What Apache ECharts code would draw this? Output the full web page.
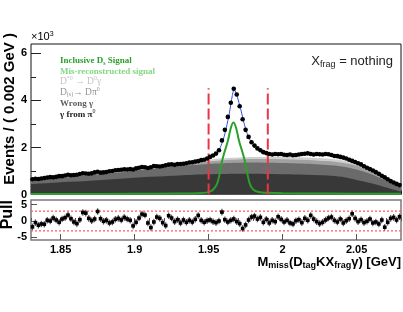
<!DOCTYPE html>
<html><head><meta charset="utf-8">
<script src="https://cdn.jsdelivr.net/npm/echarts@6/dist/echarts.min.js"></script>
<style>html,body{margin:0;padding:0;background:#fff}#c{width:403px;height:312px}</style>
</head><body><div id="c"></div>
<script>
// ---- data (events in units of 10^3) ----
const binCenters = [
1.831,1.833,1.835,1.837,1.839,1.841,1.843,1.845,1.847,1.849,
1.851,1.853,1.855,1.857,1.859,1.861,1.863,1.865,1.867,1.869,
1.871,1.873,1.875,1.877,1.879,1.881,1.883,1.885,1.887,1.889,
1.891,1.893,1.895,1.897,1.899,1.901,1.903,1.905,1.907,1.909,
1.911,1.913,1.915,1.917,1.919,1.921,1.923,1.925,1.927,1.929,
1.931,1.933,1.935,1.937,1.939,1.941,1.943,1.945,1.947,1.949,
1.951,1.953,1.955,1.957,1.959,1.961,1.963,1.965,1.967,1.969,
1.971,1.973,1.975,1.977,1.979,1.981,1.983,1.985,1.987,1.989,
1.991,1.993,1.995,1.997,1.999,2.001,2.003,2.005,2.007,2.009,
2.011,2.013,2.015,2.017,2.019,2.021,2.023,2.025,2.027,2.029,
2.031,2.033,2.035,2.037,2.039,2.041,2.043,2.045,2.047,2.049,
2.051,2.053,2.055,2.057,2.059,2.061,2.063,2.065,2.067,2.069,
2.071,2.073,2.075,2.077,2.079];
const binHalfWidth = 0.001;

const events = [
0.65,0.67,0.66,0.68,0.70,0.72,0.74,0.73,0.75,0.78,
0.78,0.81,0.84,0.82,0.83,0.84,0.87,0.90,0.89,0.88,
0.90,0.94,0.97,0.93,0.94,0.96,0.99,1.00,1.03,1.04,
1.05,1.07,1.06,1.08,1.06,1.11,1.14,1.17,1.16,1.13,
1.16,1.21,1.20,1.19,1.21,1.24,1.27,1.28,1.26,1.29,
1.30,1.31,1.33,1.36,1.37,1.40,1.42,1.46,1.48,1.53,
1.60,1.66,1.74,1.88,2.30,2.75,3.30,3.90,4.50,4.25,
3.75,3.20,2.75,2.45,2.22,2.08,1.96,1.88,1.80,1.76,
1.72,1.70,1.72,1.71,1.72,1.69,1.68,1.70,1.67,1.68,
1.70,1.72,1.73,1.75,1.72,1.70,1.72,1.71,1.70,1.72,
1.71,1.68,1.64,1.63,1.60,1.57,1.53,1.48,1.43,1.38,
1.33,1.28,1.20,1.14,1.08,1.02,0.95,0.88,0.80,0.73,
0.65,0.57,0.51,0.45,0.40];

const pulls = [
-1.8,-0.5,-1.3,-0.9,-1.0,0.2,0.0,0.9,0.3,-0.4,
0.6,1.0,1.8,0.7,-0.3,-0.8,0.4,2.6,2.4,0.8,
0.1,0.6,2.9,0.7,-0.1,0.2,-0.6,-0.3,0.5,0.8,
0.3,1.1,0.6,0.2,-1.5,-0.4,0.9,2.1,1.8,-0.6,
-2.0,-0.3,1.2,0.8,-0.5,-1.4,1.6,0.9,-0.2,0.4,
-0.6,0.3,-0.4,0.2,-0.3,0.5,1.7,0.2,-0.4,0.1,
0.3,-0.2,-0.5,0.0,2.7,0.4,-0.3,0.2,0.6,-0.2,
-0.8,-2.3,-1.2,0.3,1.2,1.5,0.6,1.1,-0.4,0.5,
-0.6,0.2,-0.2,1.3,0.5,-0.3,0.2,-0.6,-0.9,0.1,
0.4,-0.5,0.8,0.2,1.7,0.6,-0.2,-0.8,-0.4,0.3,
0.9,1.2,0.2,-0.3,0.6,-0.6,0.1,0.7,2.2,0.8,
-0.2,0.4,-0.5,-0.1,0.6,-0.6,-0.3,-0.9,0.3,-1.9,
-0.4,0.8,1.1,0.3,1.3];
const pullError = 1;

// background components (stacked, bottom to top), sampled every 0.01 GeV
const compX = [1.83,1.84,1.85,1.86,1.87,1.88,1.89,1.90,1.91,1.92,1.93,1.94,1.95,1.96,1.97,1.98,1.99,2.00,2.01,2.02,2.03,2.04,2.05,2.06,2.07,2.08];
const gammaFromPi0 = [.45,.48,.52,.55,.59,.63,.67,.71,.75,.78,.81,.84,.86,.87,.88,.88,.87,.86,.85,.83,.81,.75,.62,.48,.30,.12];
const wrongGamma   = [.15,.17,.19,.21,.23,.25,.27,.30,.33,.36,.39,.41,.44,.46,.47,.48,.48,.48,.47,.47,.44,.44,.44,.38,.28,.18];
const dsToDpi0     = [.01,.01,.01,.01,.01,.01,.01,.01,.01,.02,.03,.06,.10,.13,.14,.15,.16,.16,.16,.16,.17,.16,.16,.10,.08,.05];
const dstarToD0g   = [.02,.02,.02,.02,.02,.02,.02,.02,.03,.03,.04,.06,.08,.08,.08,.08,.08,.09,.10,.10,.11,.11,.08,.05,.04,.03];

// inclusive Ds signal curve
const sigX = [1.83,1.90,1.93,1.943,1.950,1.953,1.956,1.9594,1.9631,1.9651,1.9668,1.9685,1.9705,1.9742,1.9776,1.980,1.9837,1.990,2.00,2.03,2.08];
const sigY = [0.02,0.03,0.04,0.05,0.10,0.20,0.50,1.50,2.30,2.85,3.06,2.85,2.30,1.50,0.50,0.22,0.11,0.07,0.05,0.04,0.03];

// total fit curve
const fitX = [1.83,1.84,1.85,1.86,1.87,1.88,1.89,1.90,1.91,1.92,1.93,1.94,1.945,1.950,1.953,1.956,1.958,1.960,1.962,1.964,1.966,1.967,1.968,1.969,1.970,1.972,1.974,1.976,1.978,1.980,1.983,1.986,1.990,1.995,2.00,2.01,2.02,2.03,2.04,2.05,2.06,2.07,2.08];
const fitY = [0.65,0.71,0.78,0.84,0.90,0.96,1.03,1.10,1.17,1.24,1.31,1.39,1.45,1.55,1.64,1.80,2.02,2.35,2.85,3.45,4.20,4.42,4.40,4.25,4.02,3.55,3.02,2.60,2.32,2.14,1.97,1.85,1.76,1.72,1.70,1.70,1.71,1.70,1.60,1.33,1.03,0.66,0.38];

const cutWindow = [1.95, 1.99];
const cutLineTop = 4.52;
const pullBand = [-3, 3];

const xTicksMajor = [1.85, 1.9, 1.95, 2, 2.05];
const yTicksMajor = [0, 2, 4, 6];
const yTicksMinor = [1, 3, 5];
const pullTicks = [-5, 0, 5];

// ---- chart ----
const chart = echarts.init(document.getElementById('c'), null, {renderer: 'canvas'});
const F = '"Liberation Sans", Arial, sans-serif';
const SERIF = '"Liberation Serif", "Times New Roman", serif';
const zip = (a, b) => a.map((v, i) => [v, b[i]]);
const labelFont = {fontFamily: F, fontWeight: 'bold', fontSize: 11, color: '#000'};

// cumulative tops of the stacked background components
const layers = [
  {name: 'γ from π0', vals: gammaFromPi0, color: '#383838'},
  {name: 'Wrong γ', vals: wrongGamma, color: '#6b6b6b'},
  {name: 'D(s)→Dπ0', vals: dsToDpi0, color: '#a0a0a0'},
  {name: 'D*0→D0γ', vals: dstarToD0g, color: '#cfcfcf'}
];
let running = compX.map(() => 0);
layers.forEach(L => { running = running.map((s, i) => s + L.vals[i]); L.top = running.slice(); });

const areaSeries = layers.slice().reverse().map((L, k) => ({
  name: L.name, type: 'line', xAxisIndex: 0, yAxisIndex: 0, data: zip(compX, L.top),
  smooth: 0.3, showSymbol: false, symbol: 'none', lineStyle: {width: 0},
  areaStyle: {color: L.color, opacity: 1, origin: 'start'}, z: 2 + k * 0.01, silent: true
}));

const option = {
  animation: false,
  grid: [
    {left: 31, top: 44, width: 370, height: 150.5, show: true, borderColor: '#111', borderWidth: 1},
    {left: 31, top: 200, width: 370, height: 40, show: true, borderColor: '#7a7a7a', borderWidth: 1.5}
  ],
  xAxis: [
    {gridIndex: 0, type: 'value', min: 1.83, max: 2.08, interval: 0.01, position: 'bottom',
     axisLine: {show: false}, axisTick: {inside: true, length: 4, lineStyle: {color: '#222'}},
     axisLabel: {show: false}, splitLine: {show: false}},
    {gridIndex: 0, type: 'value', min: 1.83, max: 2.08, position: 'bottom',
     axisLine: {show: false}, axisTick: {inside: true, length: 9, customValues: xTicksMajor, lineStyle: {color: '#222'}},
     axisLabel: {show: false}, splitLine: {show: false}},
    {gridIndex: 1, type: 'value', min: 1.83, max: 2.08, interval: 0.01, position: 'bottom',
     axisLine: {show: false}, axisTick: {inside: true, length: 3, lineStyle: {color: '#555'}},
     axisLabel: Object.assign({customValues: xTicksMajor, margin: 4,
       formatter: v => String(+(+v).toFixed(2))}, labelFont),
     splitLine: {show: false}},
    {gridIndex: 1, type: 'value', min: 1.83, max: 2.08, position: 'bottom',
     axisLine: {show: false}, axisTick: {inside: true, length: 6, customValues: xTicksMajor, lineStyle: {color: '#555'}},
     axisLabel: {show: false}, splitLine: {show: false}}
  ],
  yAxis: [
    {gridIndex: 0, type: 'value', min: 0, max: 6.4, position: 'left',
     axisLine: {show: false}, axisTick: {inside: true, length: 5, customValues: yTicksMinor, lineStyle: {color: '#222'}},
     axisLabel: {show: false}, splitLine: {show: false}},
    {gridIndex: 0, type: 'value', min: 0, max: 6.4, position: 'left',
     axisLine: {show: false}, axisTick: {inside: true, length: 10, customValues: yTicksMajor, lineStyle: {color: '#222'}},
     axisLabel: Object.assign({customValues: yTicksMajor, margin: 4}, labelFont), splitLine: {show: false}},
    {gridIndex: 1, type: 'value', min: -5.8, max: 6.4, position: 'left',
     axisLine: {show: false}, axisTick: {inside: true, length: 6, customValues: pullTicks, lineStyle: {color: '#555'}},
     axisLabel: Object.assign({customValues: pullTicks, margin: 4}, labelFont), splitLine: {show: false}}
  ],
  graphic: [
    {type: 'text', x: 10, y: 33, rotation: Math.PI / 2, style: {text: 'Events / ( 0.002 GeV )',
      font: 'bold 15px ' + F, fill: '#000', align: 'right', verticalAlign: 'middle'}},
    {type: 'text', x: 8, y: 200, rotation: Math.PI / 2, style: {text: 'Pull',
      font: 'bold 16px ' + F, fill: '#000', align: 'right', verticalAlign: 'middle'}},
    {type: 'text', x: 31, y: 37, style: {text: '{m|×10}{p|3}', align: 'left', verticalAlign: 'middle',
      rich: {m: {fontFamily: F, fontSize: 11, fill: '#000', lineHeight: 12, verticalAlign: 'middle'},
             p: {fontFamily: F, fontSize: 7, fill: '#000', lineHeight: 8, padding: [0, 0, 6, 0], verticalAlign: 'middle'}}}},
    {type: 'text', x: 393, y: 61, style: {text: '{m|X}{s|frag}{m| = nothing}', align: 'right', verticalAlign: 'middle',
      rich: {m: {fontFamily: F, fontSize: 13, fill: '#222', lineHeight: 14, verticalAlign: 'middle'},
             s: {fontFamily: F, fontSize: 9, fill: '#222', lineHeight: 10, padding: [7, 0, 0, 0], verticalAlign: 'middle'}}}},
    {type: 'text', x: 401, y: 262, style: {text: '{m|M}{s|miss}{m|(D}{s|tag}{m|KX}{s|frag}{m|γ) [GeV]}', align: 'right', verticalAlign: 'middle',
      rich: {m: {fontFamily: F, fontWeight: 'bold', fontSize: 13, fill: '#000', lineHeight: 14, verticalAlign: 'middle'},
             s: {fontFamily: F, fontWeight: 'bold', fontSize: 9, fill: '#000', lineHeight: 10, padding: [8, 0, 0, 0], verticalAlign: 'middle'}}}},
    // legend
    {type: 'group', left: 60, top: 55, children: [
      {type: 'text', x: 0, y: 5, style: {text: '{t|Inclusive D}{b|s}{t| Signal}', verticalAlign: 'middle',
        rich: {t: {fontFamily: SERIF, fontWeight: 'bold', fontSize: 9, fill: '#2a9e2a', lineHeight: 10, verticalAlign: 'middle'},
               b: {fontFamily: SERIF, fontWeight: 'bold', fontSize: 6, fill: '#2a9e2a', lineHeight: 6, padding: [5, 0, 0, 0], verticalAlign: 'middle'}}}},
      {type: 'text', x: 0, y: 15.7, style: {text: 'Mis-reconstructed signal', verticalAlign: 'middle',
        font: 'bold 9px ' + SERIF, fill: '#84d884'}},
      {type: 'text', x: 0, y: 25.7, style: {text: '{t|D}{p|*0}{t| → D}{p|0}{t|γ}', verticalAlign: 'middle',
        rich: {t: {fontFamily: SERIF, fontSize: 9.5, fill: '#c4c4c4', lineHeight: 10, verticalAlign: 'middle'},
               p: {fontFamily: SERIF, fontSize: 6, fill: '#c4c4c4', lineHeight: 6, padding: [0, 0, 6, 0], verticalAlign: 'middle'}}}},
      {type: 'text', x: 0, y: 36.7, style: {text: '{t|D}{b|(s)}{t|→ Dπ}{p|0}', verticalAlign: 'middle',
        rich: {t: {fontFamily: SERIF, fontSize: 9.5, fill: '#959595', lineHeight: 10, verticalAlign: 'middle'},
               b: {fontFamily: SERIF, fontSize: 6, fill: '#959595', lineHeight: 6, padding: [5, 0, 0, 0], verticalAlign: 'middle'},
               p: {fontFamily: SERIF, fontSize: 6, fill: '#959595', lineHeight: 6, padding: [0, 0, 6, 0], verticalAlign: 'middle'}}}},
      {type: 'text', x: 0, y: 47.7, style: {text: 'Wrong γ', verticalAlign: 'middle',
        font: 'bold 9px ' + SERIF, fill: '#5e5e5e'}},
      {type: 'text', x: 0, y: 59, style: {text: '{t|γ from π}{p|0}', verticalAlign: 'middle',
        rich: {t: {fontFamily: SERIF, fontWeight: 'bold', fontSize: 9, fill: '#222', lineHeight: 10, verticalAlign: 'middle'},
               p: {fontFamily: SERIF, fontSize: 6, fill: '#222', lineHeight: 6, padding: [0, 0, 6, 0], verticalAlign: 'middle'}}}}
    ]}
  ],
  series: areaSeries.concat([
    {name: 'signal', type: 'line', xAxisIndex: 0, yAxisIndex: 0, data: zip(sigX, sigY), smooth: 0.4,
     showSymbol: false, symbol: 'none', lineStyle: {color: '#2ca02c', width: 2}, z: 4, silent: true},
    {name: 'cutLow', type: 'line', xAxisIndex: 0, yAxisIndex: 0, data: [[cutWindow[0], 0], [cutWindow[0], cutLineTop]],
     showSymbol: false, symbol: 'none', lineStyle: {color: '#ee3344', width: 2, type: [11, 4]}, z: 5, silent: true},
    {name: 'cutHigh', type: 'line', xAxisIndex: 0, yAxisIndex: 0, data: [[cutWindow[1], 0], [cutWindow[1], cutLineTop]],
     showSymbol: false, symbol: 'none', lineStyle: {color: '#ee3344', width: 2, type: [11, 4]}, z: 5, silent: true},
    {name: 'fit', type: 'line', xAxisIndex: 0, yAxisIndex: 0, data: zip(fitX, fitY), smooth: 0.25,
     showSymbol: false, symbol: 'none', lineStyle: {color: '#3050e0', width: 1}, z: 6, silent: true},
    {name: 'dataBins', type: 'custom', xAxisIndex: 0, yAxisIndex: 0, data: zip(binCenters, events), z: 7, silent: true,
     renderItem: (params, api) => {
       const x = api.value(0), y = api.value(1);
       const l = api.coord([x - binHalfWidth, y]);
       const r = api.coord([x + binHalfWidth, y]);
       return {type: 'line', shape: {x1: l[0], y1: l[1], x2: r[0], y2: r[1]}, style: {stroke: '#000', lineWidth: 1.5}};
     }},
    {name: 'data', type: 'scatter', xAxisIndex: 0, yAxisIndex: 0, data: zip(binCenters, events),
     symbol: 'circle', symbolSize: 4.6, itemStyle: {color: '#000', opacity: 1}, z: 8, silent: true},
    {name: 'pullHi', type: 'line', xAxisIndex: 2, yAxisIndex: 2, data: [[1.83, pullBand[1]], [2.08, pullBand[1]]],
     showSymbol: false, symbol: 'none', lineStyle: {color: '#ff5a5a', width: 1.2, type: [2, 2]}, z: 3, silent: true},
    {name: 'pullLo', type: 'line', xAxisIndex: 2, yAxisIndex: 2, data: [[1.83, pullBand[0]], [2.08, pullBand[0]]],
     showSymbol: false, symbol: 'none', lineStyle: {color: '#ff5a5a', width: 1.2, type: [2, 2]}, z: 3, silent: true},
    {name: 'pull', type: 'custom', xAxisIndex: 2, yAxisIndex: 2, data: zip(binCenters, pulls), z: 5, silent: true,
     renderItem: (params, api) => {
       const x = api.value(0), y = api.value(1);
       const top = api.coord([x, y + pullError]);
       const bot = api.coord([x, y - pullError]);
       const l = api.coord([x - binHalfWidth, y]);
       const r = api.coord([x + binHalfWidth, y]);
       const c = api.coord([x, y]);
       return {type: 'group', children: [
         {type: 'line', shape: {x1: top[0], y1: top[1], x2: bot[0], y2: bot[1]}, style: {stroke: '#555', lineWidth: 1.2}},
         {type: 'line', shape: {x1: l[0], y1: l[1], x2: r[0], y2: r[1]}, style: {stroke: '#111', lineWidth: 1.8}},
         {type: 'rect', shape: {x: c[0] - 1.8, y: c[1] - 1.8, width: 3.6, height: 3.6}, style: {fill: '#000'}}
       ]};
     }}
  ])
};
chart.setOption(option);
</script>
</body></html>
